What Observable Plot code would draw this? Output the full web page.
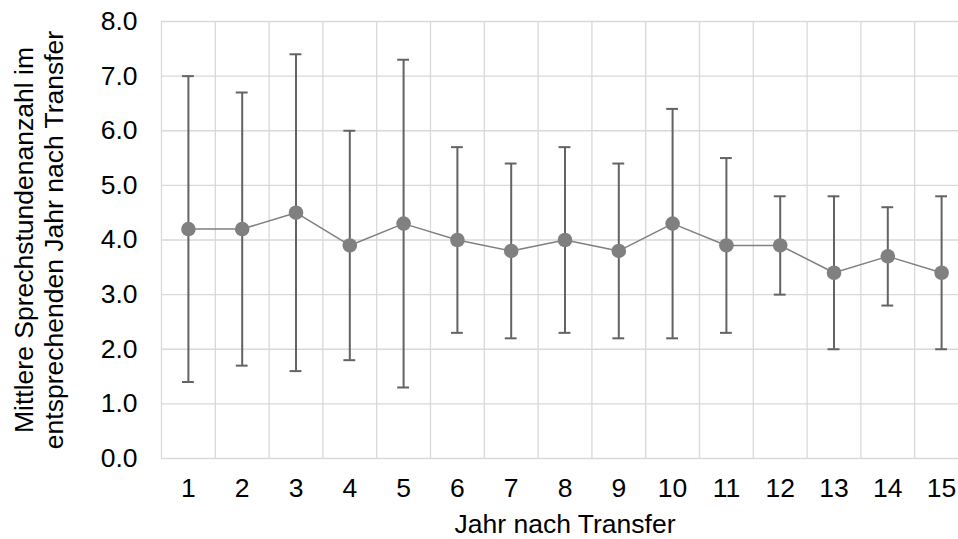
<!DOCTYPE html>
<html>
<head>
<meta charset="utf-8">
<script src="https://cdn.jsdelivr.net/npm/d3@7"></script>
<script src="https://cdn.jsdelivr.net/npm/@observablehq/plot@0.6"></script>
<style>
  html, body { margin: 0; padding: 0; background: #fff; overflow: hidden; }
  #chart svg { display: block; }
</style>
</head>
<body>
<div id="chart"></div>
<script>
const years = [1, 2, 3, 4, 5, 6, 7, 8, 9, 10, 11, 12, 13, 14, 15];
const means = [4.2, 4.2, 4.5, 3.9, 4.3, 4.0, 3.8, 4.0, 3.8, 4.3, 3.9, 3.9, 3.4, 3.7, 3.4];
const upper = [7.0, 6.7, 7.4, 6.0, 7.3, 5.7, 5.4, 5.7, 5.4, 6.4, 5.5, 4.8, 4.8, 4.6, 4.8];
const lower = [1.4, 1.7, 1.6, 1.8, 1.3, 2.3, 2.2, 2.3, 2.2, 2.2, 2.3, 3.0, 2.0, 2.8, 2.0];
const yTicks = [0, 1, 2, 3, 4, 5, 6, 7, 8];
const xLabel = "Jahr nach Transfer";
const yLabel = "Mittlere Sprechstundenanzahl im\nentsprechenden Jahr nach Transfer";

const data = years.map((y, i) => ({year: y, mean: means[i], hi: upper[i], lo: lower[i]}));
const boundaries = [0.5, ...years.map(y => y + 0.5)];
const capHalf = 0.11;

const font = "'Liberation Sans', Arial, sans-serif";
const fs = 26.5;

const chart = Plot.plot({
  width: 958,
  height: 539,
  marginLeft: 161,
  marginRight: -10,
  marginTop: 21,
  marginBottom: 81,
  style: {fontFamily: font, fontSize: fs + "px", color: "#000", background: "#fff"},
  x: {domain: [0.5, 15.5], label: null},
  y: {domain: [0, 8], label: null},
  marks: [
    Plot.ruleY(yTicks, {stroke: "#d9d9d9", strokeWidth: 1.3}),
    Plot.ruleX(boundaries, {stroke: "#d9d9d9", strokeWidth: 1.3}),
    Plot.ruleX(data, {x: "year", y1: "lo", y2: "hi", stroke: "#636363", strokeWidth: 2}),
    Plot.ruleY(data, {y: "hi", x1: d => d.year - capHalf, x2: d => d.year + capHalf, stroke: "#636363", strokeWidth: 2}),
    Plot.ruleY(data, {y: "lo", x1: d => d.year - capHalf, x2: d => d.year + capHalf, stroke: "#636363", strokeWidth: 2}),
    Plot.line(data, {x: "year", y: "mean", stroke: "#808080", strokeWidth: 1.5}),
    Plot.dot(data, {x: "year", y: "mean", r: 7.3, fill: "#808080", stroke: "none"}),
    Plot.axisX({ticks: years, tickFormat: d => String(d), tickSize: 0, tickPadding: 20, fontSize: fs, fill: "#000", label: null}),
    Plot.axisY({ticks: yTicks, tickFormat: d3.format(".1f"), tickSize: 0, tickPadding: 24, fontSize: fs, fill: "#000", label: null}),
    Plot.text([yLabel], {frameAnchor: "left", rotate: -90, dx: -123, textAnchor: "middle", lineAnchor: "middle", lineHeight: 1.15, fontSize: fs, fill: "#000"}),
    Plot.text([xLabel], {frameAnchor: "bottom", dy: 66, textAnchor: "middle", lineAnchor: "middle", fontSize: fs, fill: "#000"})
  ]
});
document.getElementById("chart").appendChild(chart);
</script>
</body>
</html>
